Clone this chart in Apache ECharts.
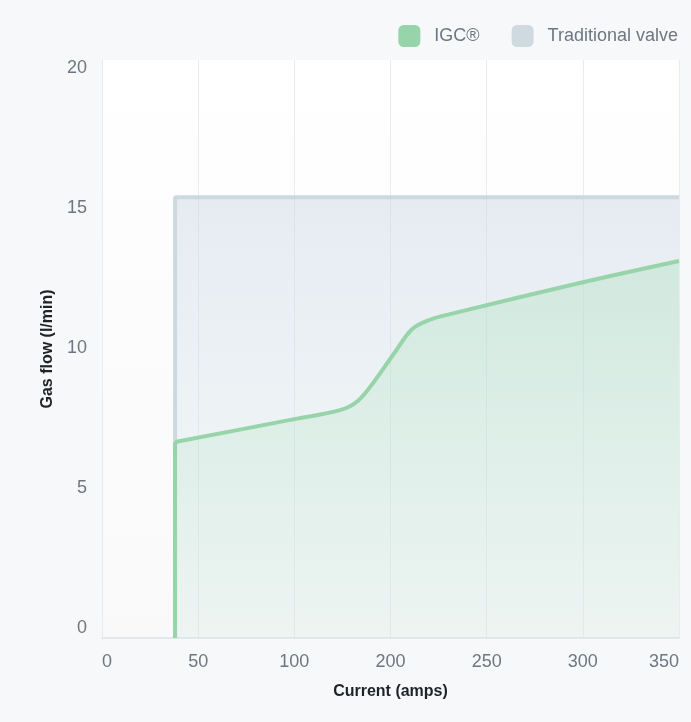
<!DOCTYPE html>
<html>
<head>
<meta charset="utf-8">
<script src="https://cdn.jsdelivr.net/npm/echarts@6/dist/echarts.min.js"></script>
<style>
  html, body { margin: 0; padding: 0; background: #f7f8fa; }
  #chart { width: 691px; height: 722px; }
</style>
</head>
<body>
<div id="chart"></div>
<script>
// ---- data ----
var xTickLabels = ['0', '50', '100', '200', '250', '300', '350'];   // evenly spaced on the axis
var yTickValues = [0, 5, 10, 15, 20];
var yAxisMin = -0.35;
var yAxisMax = 20.3;

// IGC® gas flow (amps, l/min)
var igcStartAmps = 38;
var igcAmps  = [38, 100, 147.5, 166, 184, 202.3, 211.2, 220.5, 230.9, 300, 350];
var igcFlow  = [6.65, 7.47, 7.79, 8.12, 8.86, 9.86, 10.68, 11.02, 11.22, 12.36, 13.12];

// Traditional valve gas flow (amps, l/min)
var valveAmps = [38, 38, 350];
var valveFlow = [yAxisMin, 15.4, 15.4];

// map an amps value onto the (evenly spaced) tick positions of the x axis
var tickAmps = xTickLabels.map(Number);
function ampsToPos(a) {
  for (var i = 0; i < tickAmps.length - 1; i++) {
    if (a <= tickAmps[i + 1]) {
      return i + (a - tickAmps[i]) / (tickAmps[i + 1] - tickAmps[i]);
    }
  }
  return tickAmps.length - 1;
}
function pairs(xs, ys) {
  return xs.map(function (x, i) { return [ampsToPos(x), ys[i]]; });
}

var FONT = "'Liberation Sans', Arial, sans-serif";
var chart = echarts.init(document.getElementById('chart'), null, { renderer: 'canvas' });

chart.setOption({
  backgroundColor: '#f7f8fa',
  animation: false,
  textStyle: { fontFamily: FONT },
  legend: {
    right: 8,
    top: 20,
    itemWidth: 22,
    itemHeight: 22,
    itemGap: 32,
    icon: 'roundRect',
    textStyle: { fontSize: 18, color: '#6e7781', fontFamily: FONT, padding: [0, 0, 0, 9] },
    data: [
      { name: 'IGC®', itemStyle: { color: '#98d4a9' } },
      { name: 'Traditional valve', itemStyle: { color: '#cfd9e0' } }
    ]
  },
  grid: {
    left: 102,
    right: 12,
    top: 60,
    bottom: 84,
    containLabel: false,
    outerBoundsMode: 'none',
    show: true,
    borderWidth: 0,
    backgroundColor: {
      type: 'linear', x: 0, y: 0, x2: 0, y2: 1,
      colorStops: [{ offset: 0, color: '#ffffff' }, { offset: 1, color: '#f9f9f9' }]
    }
  },
  xAxis: {
    type: 'value',
    min: 0,
    max: xTickLabels.length - 1,
    interval: 1,
    name: 'Current (amps)',
    nameLocation: 'middle',
    nameGap: 46,
    nameTextStyle: { fontSize: 16, fontWeight: 'bold', color: '#1f2326', fontFamily: FONT },
    axisLine: { show: true, onZero: false, lineStyle: { color: '#e3e8ec', width: 2 } },
    axisTick: { show: false },
    axisLabel: {
      margin: 15,
      fontSize: 18,
      color: '#6e7781',
      fontFamily: FONT,
      alignMinLabel: 'left',
      alignMaxLabel: 'right',
      formatter: function (v) { return xTickLabels[Math.round(v)]; }
    },
    splitLine: { show: true, lineStyle: { color: '#e8ecf0', width: 1 } }
  },
  yAxis: {
    type: 'value',
    min: yAxisMin,
    max: yAxisMax,
    name: 'Gas flow (l/min)',
    nameLocation: 'middle',
    nameGap: 37,
    nameTextStyle: { fontSize: 16, fontWeight: 'bold', color: '#1f2326', fontFamily: FONT },
    axisLine: { show: true, lineStyle: { color: '#e6eaee', width: 1 } },
    axisTick: { show: false },
    splitLine: { show: false },
    axisLabel: {
      customValues: yTickValues,
      margin: 15,
      fontSize: 18,
      color: '#6e7781',
      fontFamily: FONT
    }
  },
  series: [
    {
      name: 'Traditional valve',
      type: 'line',
      data: pairs(valveAmps, valveFlow),
      symbol: 'none',
      z: 2,
      itemStyle: { color: '#cfd9e0' },
      lineStyle: { color: '#cdd8e0', width: 4 },
      areaStyle: {
        origin: 'start',
        color: {
          type: 'linear', x: 0, y: 0, x2: 0, y2: 1,
          colorStops: [
            { offset: 0, color: 'rgba(200,214,226,0.66)' },
            { offset: 1, color: 'rgba(215,232,238,0.25)' }
          ]
        }
      }
    },
    {
      name: 'IGC®',
      type: 'line',
      data: pairs(igcAmps, igcFlow),
      symbol: 'none',
      smooth: 0.35,
      z: 3,
      itemStyle: { color: '#98d4a9' },
      lineStyle: { color: '#97d4aa', width: 4, join: 'round' },
      areaStyle: {
        origin: 'start',
        color: {
          type: 'linear', x: 0, y: 0, x2: 0, y2: 1,
          colorStops: [
            { offset: 0, color: 'rgba(160,222,180,0.45)' },
            { offset: 1, color: 'rgba(160,222,180,0.10)' }
          ]
        }
      },
      markLine: {
        silent: true,
        symbol: 'none',
        label: { show: false },
        lineStyle: { color: '#97d4aa', width: 4, type: 'solid' },
        data: [[
          { coord: [ampsToPos(igcStartAmps), yAxisMin] },
          { coord: [ampsToPos(igcStartAmps), igcFlow[0]] }
        ]]
      }
    }
  ]
});
</script>
</body>
</html>
